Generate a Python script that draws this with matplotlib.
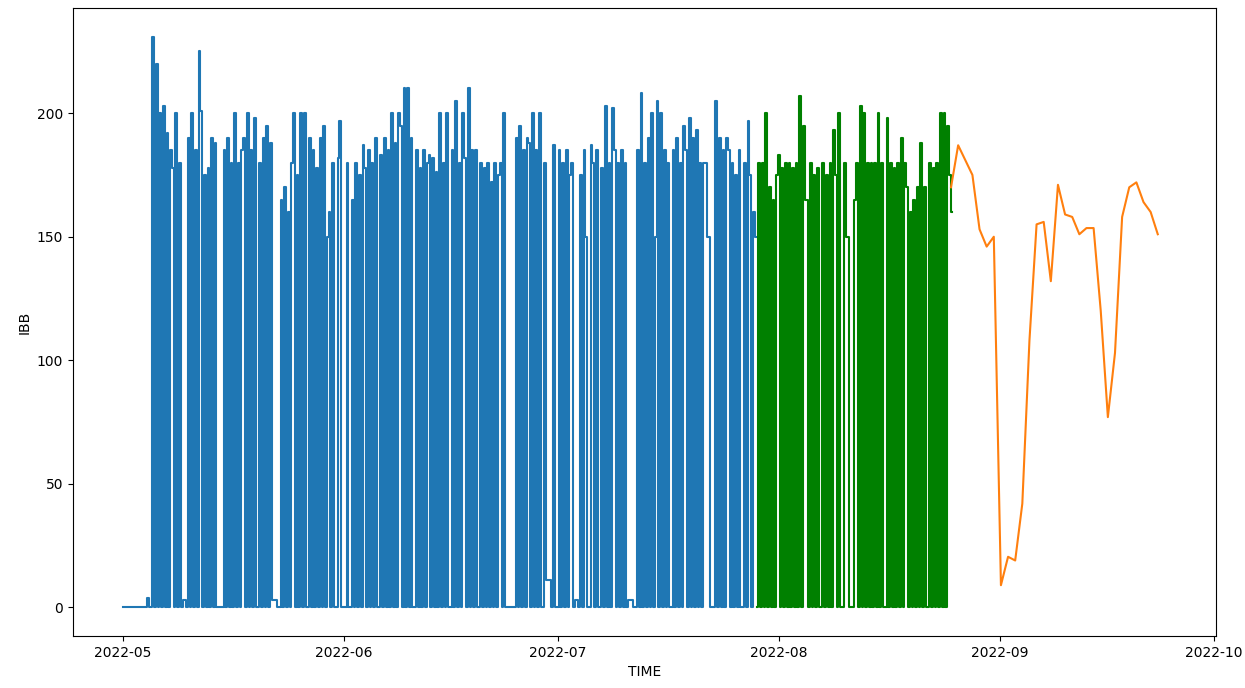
import pandas as pd
import matplotlib.pyplot as plt
import matplotlib.dates as mdates

OUT_PNG = 'out.png'

# observed IBB, 6-hourly samples (00h, 06h, 12h, 18h), one row per day
blue_start = '2022-05-01 00:00'
blue_ibb = [
    0, 0, 0, 0,  # May 1
    0, 0, 0, 0,
    0, 0, 0, 0,
    0, 0, 4, 0,
    0, 231, 0, 220,  # May 5
    0, 200, 0, 203,
    0, 192, 0, 185,
    178, 0, 200, 0,
    180, 0, 3, 3,
    0, 190, 0, 200,  # May 10
    0, 185, 0, 225,
    201, 0, 175, 0,
    178, 0, 190, 0,
    188, 0, 0, 0,
    0, 185, 0, 190,  # May 15
    0, 180, 0, 200,
    0, 180, 0, 185,
    190, 0, 200, 0,
    185, 0, 198, 0,
    0, 180, 0, 190,  # May 20
    0, 195, 0, 188,
    3, 3, 3, 0,
    0, 165, 0, 170,
    0, 160, 0, 180,
    200, 0, 175, 0,  # May 25
    200, 0, 200, 0,
    0, 190, 0, 185,
    0, 178, 0, 190,
    0, 195, 0, 150,
    160, 0, 180, 0,  # May 30
    0, 182, 197, 0,
    0, 0, 180, 0,  # Jun 1
    0, 165, 0, 180,
    0, 175, 0, 187,
    178, 0, 185, 0,
    180, 0, 190, 0,  # Jun 5
    0, 183, 0, 190,
    0, 185, 0, 200,
    0, 188, 0, 200,
    195, 0, 210, 0,
    210, 0, 190, 0,  # Jun 10
    0, 185, 0, 178,
    0, 185, 0, 180,
    183, 0, 182, 0,
    176, 0, 200, 0,
    180, 0, 200, 0,  # Jun 15
    0, 185, 0, 205,
    0, 180, 0, 200,
    182, 0, 210, 0,
    185, 0, 185, 0,
    0, 180, 0, 178,  # Jun 20
    0, 180, 0, 172,
    0, 180, 0, 175,
    180, 0, 200, 0,
    0, 0, 0, 0,
    0, 190, 0, 195,  # Jun 25
    0, 185, 0, 190,
    188, 0, 200, 0,
    185, 0, 200, 0,
    0, 180, 11, 11,
    11, 0, 187, 0,  # Jun 30
    0, 185, 0, 180,  # Jul 1
    0, 185, 0, 175,
    180, 0, 3, 3,
    0, 175, 0, 185,
    150, 0, 0, 187,  # Jul 5
    180, 0, 185, 0,
    0, 178, 0, 203,
    0, 180, 0, 202,
    185, 0, 180, 0,
    185, 0, 180, 0,  # Jul 10
    3, 3, 3, 0,
    0, 185, 0, 208,
    0, 180, 0, 190,
    0, 200, 0, 150,
    205, 0, 200, 0,  # Jul 15
    185, 0, 180, 0,
    0, 185, 0, 190,
    0, 180, 0, 195,
    185, 0, 198, 0,
    190, 0, 193, 0,  # Jul 20
    180, 0, 180, 180,
    150, 150, 0, 0,
    0, 205, 0, 190,
    0, 185, 0, 190,
    185, 0, 180, 0,  # Jul 25
    175, 0, 185, 0,
    0, 180, 0, 197,
    175, 0, 160, 150,  # Jul 28
]

green_start = '2022-07-29 00:00'
green_ibb = [
    0, 180, 0, 180,  # Jul 29
    0, 200, 0, 170,
    0, 165, 0, 175,
    183, 0, 178, 0,  # Aug 1
    180, 0, 180, 0,
    178, 0, 180, 0,
    207, 0, 195, 165,
    165, 0, 180, 0,  # Aug 5
    175, 0, 178, 0,
    0, 180, 0, 175,
    0, 180, 0, 193,
    175, 0, 200, 0,
    0, 180, 150, 150,  # Aug 10
    0, 0, 0, 165,
    180, 0, 203, 0,
    200, 0, 180, 0,
    180, 0, 180, 0,
    200, 0, 180, 0,  # Aug 15
    0, 198, 0, 180,
    0, 178, 0, 180,
    0, 190, 0, 180,
    170, 0, 160, 0,
    165, 0, 170, 0,  # Aug 20
    188, 0, 170, 0,
    0, 180, 0, 178,
    0, 180, 0, 200,
    0, 200, 0, 195,
    175, 160,  # Aug 25
]

# daily forecast
orange_start = '2022-08-25 04:00'
orange_ibb = [170, 187, 181, 175, 153, 146, 150, 9, 20.5, 19,
              42, 108, 155, 156, 132, 171, 159, 158, 151, 153.5,
              153.5, 120, 77, 103, 158, 170, 172, 164, 160, 151]


def main():
    blue_t = pd.date_range(blue_start, periods=len(blue_ibb), freq='6h')
    green_t = pd.date_range(green_start, periods=len(green_ibb), freq='6h')
    orange_t = pd.date_range(orange_start, periods=len(orange_ibb), freq='D')

    fig = plt.figure(figsize=(12.45, 6.88), dpi=100)
    ax = fig.add_subplot(111)
    fig.subplots_adjust(left=0.0586, right=0.9767, bottom=0.0756, top=0.9884)

    # dense on/off series: steps keep the edges vertical like the hourly source
    ax.plot(blue_t, blue_ibb, color='#1f77b4', linewidth=1.5, drawstyle='steps-mid')
    ax.plot(green_t, green_ibb, color='green', linewidth=1.5, drawstyle='steps-mid')
    ax.plot(orange_t, orange_ibb, color='#ff7f0e', linewidth=1.5)

    ax.set_xlim(pd.Timestamp('2022-04-24 00:00'), pd.Timestamp('2022-10-01 08:00'))
    ax.xaxis.set_major_locator(mdates.MonthLocator())
    ax.xaxis.set_major_formatter(mdates.DateFormatter('%Y-%m'))
    ax.set_xlabel('TIME')
    ax.set_ylabel('IBB')

    fig.savefig(OUT_PNG, dpi=100)


if __name__ == '__main__':
    main()
